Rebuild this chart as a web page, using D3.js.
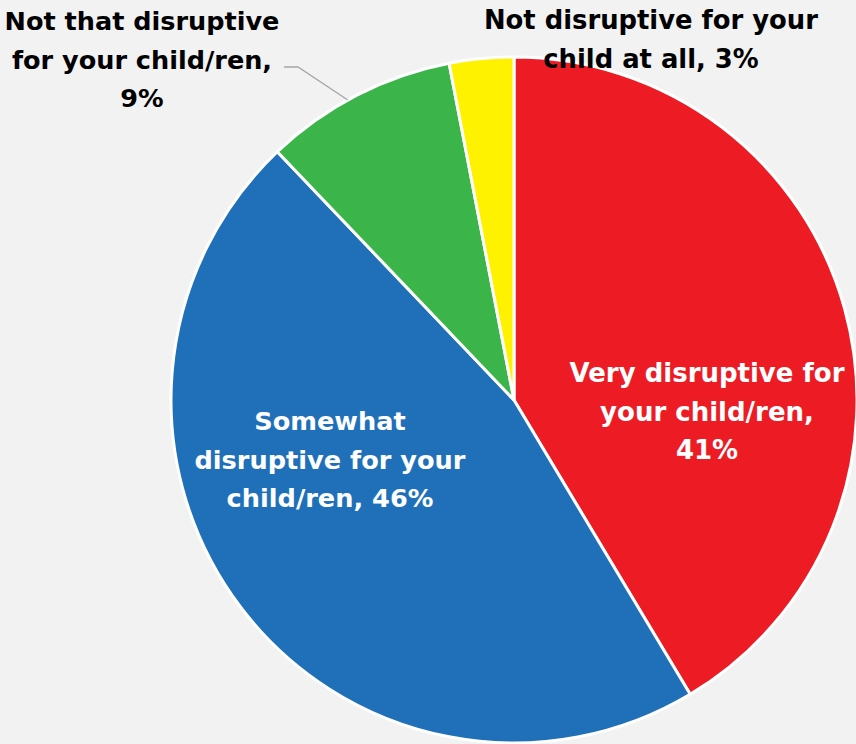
<!DOCTYPE html>
<html>
<head>
<meta charset="utf-8">
<script src="https://cdn.jsdelivr.net/npm/d3@7"></script>
<style>
html,body{margin:0;padding:0;background:#f2f2f2;}
svg{display:block;}
text{font-family:"DejaVu Sans",sans-serif;font-weight:bold;}
</style>
</head>
<body>
<svg id="chart" width="856" height="744"></svg>
<script>
const categories = [
  "Very disruptive for your child/ren",
  "Somewhat disruptive for your child/ren",
  "Not that disruptive for your child/ren",
  "Not disruptive for your child at all"
];
const values = [41, 46, 9, 3];
const colors = ["#ed1c24", "#1f70b9", "#3bb54a", "#fff200"];
const labelLines = [
  ["Very disruptive for", "your child/ren,", "41%"],
  ["Somewhat", "disruptive for your", "child/ren, 46%"],
  ["Not that disruptive", "for your child/ren,", "9%"],
  ["Not disruptive for your", "child at all, 3%"]
];

const W = 856, H = 744;
const cx = 514, cy = 400, R = 343;
const svg = d3.select("#chart");
svg.append("rect").attr("width", W).attr("height", H).attr("fill", "#f2f2f2");

const pie = d3.pie().sort(null).value(d => d)(values);
const arc = d3.arc().innerRadius(0).outerRadius(R);
const g = svg.append("g").attr("transform", `translate(${cx},${cy})`);
g.selectAll("path").data(pie).join("path")
  .attr("d", arc)
  .attr("fill", (d, i) => colors[i])
  .attr("stroke", "#ffffff")
  .attr("stroke-width", 3)
  .attr("stroke-linejoin", "round");

const labelPos = [
  {x: 707, y: 382, fill: "#ffffff", w: 275},
  {x: 330, y: 430, fill: "#ffffff", w: 271},
  {x: 142, y: 30, fill: "#000000", w: 275},
  {x: 651, y: 29, fill: "#000000", w: 334}
];
const lineH = 38.5;
const baseFs = 26;

// leader line for 9% slice
const mid = (pie[2].startAngle + pie[2].endAngle) / 2;
const edge = [cx + Math.sin(mid - 0.03) * R, cy - Math.cos(mid - 0.03) * R];
svg.append("polyline")
  .attr("points", `284,67 298,67 ${edge[0]},${edge[1]}`)
  .attr("fill", "none").attr("stroke", "#a6a6a6").attr("stroke-width", 1.3);

labelLines.forEach((lines, i) => {
  const t = svg.append("text")
    .attr("text-anchor", "middle")
    .attr("fill", labelPos[i].fill)
    .attr("font-size", baseFs);
  const spans = lines.map((ln, j) =>
    t.append("tspan").attr("x", labelPos[i].x).attr("y", labelPos[i].y + j * lineH).text(ln));
  const w0 = d3.max(spans, s => s.node().getComputedTextLength());
  const fs = Math.min(30, baseFs * labelPos[i].w / w0);
  t.attr("font-size", fs.toFixed(2));
});
</script>
</body>
</html>
